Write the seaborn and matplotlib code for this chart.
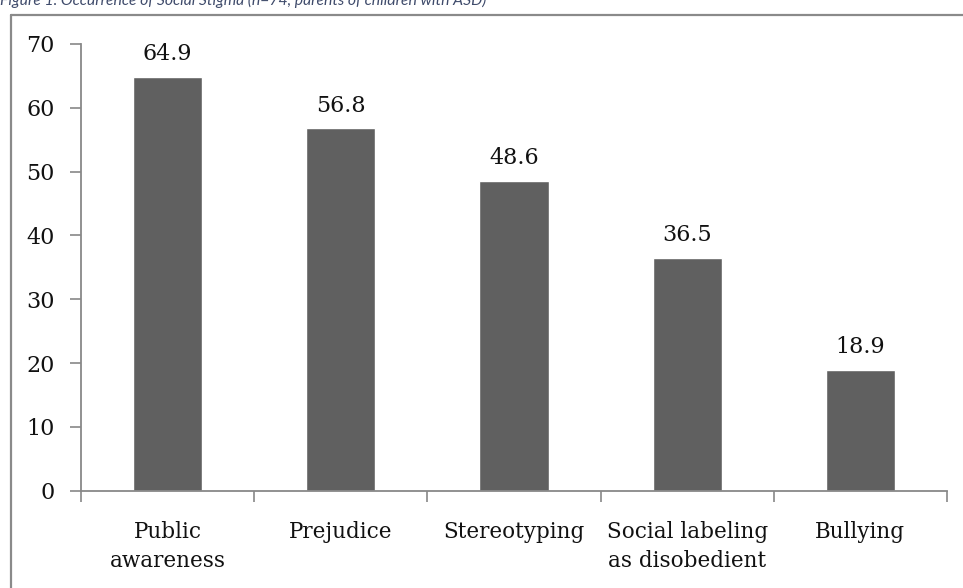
import matplotlib
matplotlib.use("Agg")
import matplotlib.pyplot as plt
from matplotlib.lines import Line2D
import seaborn as sns
import pandas as pd

categories = ["Public\nawareness", "Prejudice", "Stereotyping",
              "Social labeling\nas disobedient", "Bullying"]
values = [64.9, 56.8, 48.6, 36.5, 18.9]
y_ticks = [0, 10, 20, 30, 40, 50, 60, 70]

df = pd.DataFrame({"category": categories, "value": values})

sns.set_theme(style="white")
plt.rcParams["font.family"] = ["DejaVu Serif"]

W, H = 963, 588
fig = plt.figure(figsize=(W / 100, H / 100), dpi=100)
ax = fig.add_axes([81 / W, 1 - 490.7 / H, (947 - 81) / W, (490.7 - 44) / H])

sns.barplot(data=df, x="category", y="value", color="#606060",
            saturation=1, width=0.4, ax=ax)

for i, v in enumerate(values):
    ax.annotate(f"{v:.1f}", (i, v), xytext=(0, 12), textcoords="offset points",
                ha="center", va="baseline", fontsize=16, color="#111111")

axis_grey = "#888888"
ax.set_ylim(0, 70)
ax.set_xlim(-0.5, len(categories) - 0.5)
ax.set_yticks(y_ticks)
ax.set_yticklabels([str(t) for t in y_ticks], fontsize=16, color="#111111")
ax.set_xticks(range(len(categories)))
ax.set_xticklabels(categories, fontsize=15.5, color="#111111", linespacing=1.4)
ax.tick_params(axis="x", which="major", bottom=False, length=0, pad=22)
ax.tick_params(axis="y", left=True, length=8, width=1.2, color=axis_grey,
               direction="out", pad=11)
ax.set_xlabel("")
ax.set_ylabel("")

# category separators on the x axis
ax.set_xticks([i - 0.5 for i in range(len(categories) + 1)], minor=True)
ax.tick_params(axis="x", which="minor", bottom=True, length=8, width=1.2,
               color=axis_grey, direction="out")

for side in ["top", "right"]:
    ax.spines[side].set_visible(False)
for side in ["left", "bottom"]:
    ax.spines[side].set_color(axis_grey)
    ax.spines[side].set_linewidth(1.3)

# surrounding chart frame
frame_kw = dict(color="#8a8a8a", linewidth=1.6, transform=fig.transFigure)
fig.add_artist(Line2D([11 / W, 11 / W], [0, 1 - 15 / H], **frame_kw))
fig.add_artist(Line2D([11 / W, 1.0], [1 - 15 / H, 1 - 15 / H], **frame_kw))

fig.text(0.0, 1 - 5 / H,
         "Figure 1. Occurrence of Social Stigma (n=74, parents of children with ASD)",
         fontsize=11.3, style="italic", color="#3f4b6b", ha="left", va="baseline",
         family=["Lato", "DejaVu Sans"])

fig.savefig("out.png", dpi=100)
